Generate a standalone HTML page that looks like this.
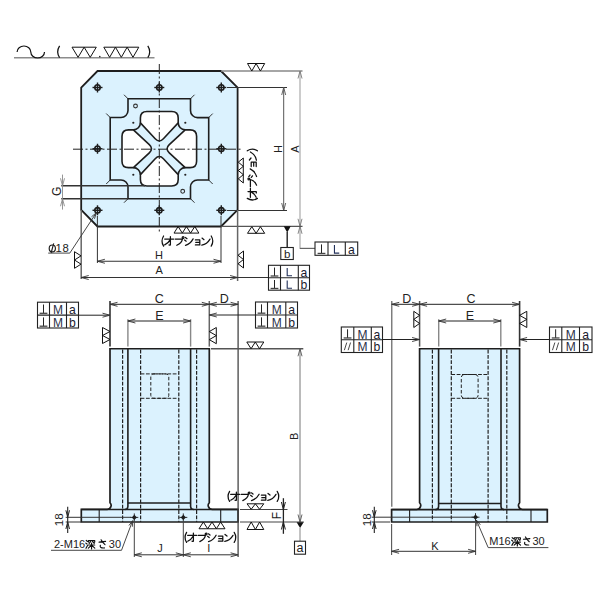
<!DOCTYPE html><html><head><meta charset="utf-8"><style>html,body{margin:0;padding:0;background:#fff;}svg{display:block;}</style></head><body><svg width="600" height="600" viewBox="0 0 600 600" font-family="&quot;Liberation Sans&quot;, sans-serif">
<rect width="600" height="600" fill="#fff"/>
<line x1="14" y1="57.75" x2="154.5" y2="57.75" stroke="#8c8c8c" stroke-width="1.6" />
<path d="M17.1,52 A6.85,6 0 0 1 30.8,52 A6.85,6 0 0 0 44.5,52" stroke="#111" stroke-width="1.2" fill="none" />
<path d="M59.6,45.8 Q55.8,51.8 59.6,57.6" stroke="#111" stroke-width="1.25" fill="none"/>
<path d="M147.8,45.8 Q151.6,51.8 147.8,57.6" stroke="#111" stroke-width="1.25" fill="none"/>
<path d="M72,47.2 H96.3 M72.00,47.2 L78.08,57.3 L84.15,47.2 M84.15,47.2 L90.23,57.3 L96.30,47.2" stroke="#111" stroke-width="1.0" fill="none" />
<path d="M103.8,47.2 H138.8 M103.80,47.2 L109.63,57.3 L115.47,47.2 M115.47,47.2 L121.30,57.3 L127.13,47.2 M127.13,47.2 L132.97,57.3 L138.80,47.2" stroke="#111" stroke-width="1.0" fill="none" />
<circle cx="99.8" cy="56.6" r="0.8" fill="#222"/>
<path d="M97.5,71 H221 L237.6,87.5 V210 L221,226.5 H97.5 L81.2,210 V87.5 Z" stroke="#1e1e1e" stroke-width="1.8" fill="#dbf2fe" />
<path d="M128,98.75 H190.5 V110.5 A7,7 0 0 0 197.5,117.6 H208.7 V180 H197.5 A7,7 0 0 0 190.5,187 V198.7 H128 V187 A7,7 0 0 0 121,180 H110.2 V117.5 H121 A7,7 0 0 0 128,110.5 Z" stroke="#1e1e1e" stroke-width="1.6" fill="none" />
<line x1="128" y1="98.75" x2="124" y2="94.75" stroke="#1e1e1e" stroke-width="0.9" />
<line x1="190.5" y1="98.75" x2="194.5" y2="94.75" stroke="#1e1e1e" stroke-width="0.9" />
<line x1="208.7" y1="117.6" x2="212.7" y2="113.6" stroke="#1e1e1e" stroke-width="0.9" />
<line x1="208.7" y1="180" x2="212.7" y2="184" stroke="#1e1e1e" stroke-width="0.9" />
<line x1="190.5" y1="198.7" x2="194.5" y2="202.7" stroke="#1e1e1e" stroke-width="0.9" />
<line x1="128" y1="198.7" x2="124" y2="202.7" stroke="#1e1e1e" stroke-width="0.9" />
<line x1="110.2" y1="180" x2="106.2" y2="184" stroke="#1e1e1e" stroke-width="0.9" />
<line x1="110.2" y1="117.5" x2="106.2" y2="113.5" stroke="#1e1e1e" stroke-width="0.9" />
<path d="M140.40,117.95 Q140.40,111.45 146.90,111.45 L171.70,111.45 Q178.20,111.45 178.20,117.95 L178.20,122.85 Q178.20,122.85 178.20,122.85 L163.39,138.76 Q159.30,143.15 155.21,138.76 L140.40,122.85 Q140.40,122.85 140.40,122.85 Z" stroke="#1e1e1e" stroke-width="1.6" fill="#fff" />
<path d="M178.20,122.85 A7,7 0 0 0 185.20,129.85" stroke="#1e1e1e" stroke-width="1.6" fill="none" />
<path d="M190.10,129.85 Q196.60,129.85 196.60,136.35 L196.60,161.15 Q196.60,167.65 190.10,167.65 L185.20,167.65 Q185.20,167.65 185.20,167.65 L169.29,152.84 Q164.90,148.75 169.29,144.66 L185.20,129.85 Q185.20,129.85 185.20,129.85 Z" stroke="#1e1e1e" stroke-width="1.6" fill="#fff" />
<path d="M185.20,167.65 A7,7 0 0 0 178.20,174.65" stroke="#1e1e1e" stroke-width="1.6" fill="none" />
<path d="M178.20,179.55 Q178.20,186.05 171.70,186.05 L146.90,186.05 Q140.40,186.05 140.40,179.55 L140.40,174.65 Q140.40,174.65 140.40,174.65 L155.21,158.74 Q159.30,154.35 163.39,158.74 L178.20,174.65 Q178.20,174.65 178.20,174.65 Z" stroke="#1e1e1e" stroke-width="1.6" fill="#fff" />
<path d="M140.40,174.65 A7,7 0 0 0 133.40,167.65" stroke="#1e1e1e" stroke-width="1.6" fill="none" />
<path d="M128.50,167.65 Q122.00,167.65 122.00,161.15 L122.00,136.35 Q122.00,129.85 128.50,129.85 L133.40,129.85 Q133.40,129.85 133.40,129.85 L149.31,144.66 Q153.70,148.75 149.31,152.84 L133.40,167.65 Q133.40,167.65 133.40,167.65 Z" stroke="#1e1e1e" stroke-width="1.6" fill="#fff" />
<path d="M133.40,129.85 A7,7 0 0 0 140.40,122.85" stroke="#1e1e1e" stroke-width="1.6" fill="none" />
<circle cx="133.3" cy="122.75" r="1.1" fill="#222"/>
<circle cx="133.3" cy="174.75" r="1.1" fill="#222"/>
<circle cx="185.3" cy="122.75" r="1.1" fill="#222"/>
<circle cx="185.3" cy="174.75" r="1.1" fill="#222"/>
<circle cx="135.5" cy="106" r="1.9" stroke="#333" stroke-width="1.1" fill="none"/>
<circle cx="182.7" cy="191.3" r="1.9" stroke="#333" stroke-width="1.1" fill="none"/>
<line x1="73" y1="149.2" x2="242" y2="149.2" stroke="#222" stroke-width="1.0" stroke-dasharray="10,2.5,2,2.5"/>
<line x1="159.3" y1="64" x2="159.3" y2="233" stroke="#222" stroke-width="1.0" stroke-dasharray="10,2.5,2,2.5"/>
<circle cx="97.5" cy="87.5" r="2.7" stroke="#1e1e1e" stroke-width="1.6" fill="none"/>
<line x1="92.5" y1="87.5" x2="102.5" y2="87.5" stroke="#1e1e1e" stroke-width="1.4" />
<line x1="97.5" y1="82.5" x2="97.5" y2="92.5" stroke="#1e1e1e" stroke-width="1.4" />
<circle cx="97.5" cy="148.75" r="2.7" stroke="#1e1e1e" stroke-width="1.6" fill="none"/>
<line x1="92.5" y1="148.75" x2="102.5" y2="148.75" stroke="#1e1e1e" stroke-width="1.4" />
<line x1="97.5" y1="143.75" x2="97.5" y2="153.75" stroke="#1e1e1e" stroke-width="1.4" />
<circle cx="97.5" cy="210.3" r="2.7" stroke="#1e1e1e" stroke-width="1.6" fill="none"/>
<line x1="92.5" y1="210.3" x2="102.5" y2="210.3" stroke="#1e1e1e" stroke-width="1.4" />
<line x1="97.5" y1="205.3" x2="97.5" y2="215.3" stroke="#1e1e1e" stroke-width="1.4" />
<circle cx="159.3" cy="87.5" r="2.7" stroke="#1e1e1e" stroke-width="1.6" fill="none"/>
<line x1="154.3" y1="87.5" x2="164.3" y2="87.5" stroke="#1e1e1e" stroke-width="1.4" />
<line x1="159.3" y1="82.5" x2="159.3" y2="92.5" stroke="#1e1e1e" stroke-width="1.4" />
<circle cx="159.3" cy="210.3" r="2.7" stroke="#1e1e1e" stroke-width="1.6" fill="none"/>
<line x1="154.3" y1="210.3" x2="164.3" y2="210.3" stroke="#1e1e1e" stroke-width="1.4" />
<line x1="159.3" y1="205.3" x2="159.3" y2="215.3" stroke="#1e1e1e" stroke-width="1.4" />
<circle cx="221.3" cy="87.5" r="2.7" stroke="#1e1e1e" stroke-width="1.6" fill="none"/>
<line x1="216.3" y1="87.5" x2="226.3" y2="87.5" stroke="#1e1e1e" stroke-width="1.4" />
<line x1="221.3" y1="82.5" x2="221.3" y2="92.5" stroke="#1e1e1e" stroke-width="1.4" />
<circle cx="221.3" cy="148.75" r="2.7" stroke="#1e1e1e" stroke-width="1.6" fill="none"/>
<line x1="216.3" y1="148.75" x2="226.3" y2="148.75" stroke="#1e1e1e" stroke-width="1.4" />
<line x1="221.3" y1="143.75" x2="221.3" y2="153.75" stroke="#1e1e1e" stroke-width="1.4" />
<circle cx="221.3" cy="210.3" r="2.7" stroke="#1e1e1e" stroke-width="1.6" fill="none"/>
<line x1="216.3" y1="210.3" x2="226.3" y2="210.3" stroke="#1e1e1e" stroke-width="1.4" />
<line x1="221.3" y1="205.3" x2="221.3" y2="215.3" stroke="#1e1e1e" stroke-width="1.4" />
<line x1="61.3" y1="185.8" x2="145" y2="185.8" stroke="#333" stroke-width="1.4" />
<line x1="61.3" y1="198.75" x2="128" y2="198.75" stroke="#333" stroke-width="1.4" />
<line x1="62.5" y1="174.6" x2="62.5" y2="209.6" stroke="#8a8a8a" stroke-width="0.9" />
<path d="M60.50,178.30 L62.50,185.80 L64.50,178.30" stroke="#8a8a8a" stroke-width="0.9" fill="none"/>
<path d="M64.50,206.25 L62.50,198.75 L60.50,206.25" stroke="#8a8a8a" stroke-width="0.9" fill="none"/>
<text x="60.9" y="191.4" font-size="12" text-anchor="middle" fill="#222" transform="rotate(-90 60.9 191.4)" >G</text>
<line x1="221" y1="71" x2="302.5" y2="71" stroke="#888" stroke-width="1.4" />
<path d="M247.5,63.5 H264.7 M247.50,63.5 L251.80,71 L256.10,63.5 M256.10,63.5 L260.40,71 L264.70,63.5" stroke="#111" stroke-width="1.0" fill="none" />
<line x1="227" y1="87.5" x2="287" y2="87.5" stroke="#333" stroke-width="1.2" />
<line x1="283.7" y1="87.5" x2="283.7" y2="210.5" stroke="#555" stroke-width="1.0" />
<path d="M285.70,95.00 L283.70,87.50 L281.70,95.00" stroke="#555" stroke-width="0.9" fill="none"/>
<path d="M281.70,203.00 L283.70,210.50 L285.70,203.00" stroke="#555" stroke-width="0.9" fill="none"/>
<line x1="300" y1="71" x2="300" y2="249" stroke="#999" stroke-width="1.0" />
<path d="M302.00,78.50 L300.00,71.00 L298.00,78.50" stroke="#777" stroke-width="0.9" fill="none"/>
<path d="M298.00,218.80 L300.00,226.30 L302.00,218.80" stroke="#777" stroke-width="0.9" fill="none"/>
<path d="M302.00,233.80 L300.00,226.30 L298.00,233.80" stroke="#777" stroke-width="0.9" fill="none"/>
<line x1="227" y1="210.5" x2="287" y2="210.5" stroke="#333" stroke-width="1.2" />
<line x1="221" y1="226.3" x2="302.5" y2="226.3" stroke="#555" stroke-width="1.2" />
<text x="281.5" y="149" font-size="11" text-anchor="middle" fill="#222" transform="rotate(-90 281.5 149)" >H</text>
<text x="299" y="149" font-size="11" text-anchor="middle" fill="#222" transform="rotate(-90 299 149)" >A</text>
<path d="M243.3,158 V183 M243.3,158.00 L238.3,162.17 L243.3,166.33 M243.3,166.33 L238.3,170.50 L243.3,174.67 M243.3,174.67 L238.3,178.83 L243.3,183.00" stroke="#111" stroke-width="1.0" fill="none" />
<g transform="translate(248 201) rotate(-90) scale(1.0)" stroke="#111" stroke-width="1.25" fill="none" stroke-linecap="round" stroke-linejoin="round"><path d="M2.6,-0.7 Q-0.6,4.4 2.6,9.4" /><path transform="translate(3.2,0)" d="M0.5,2.4 H9.5 M6.2,0 V8 Q6.2,8.7 4.8,8.2 M5.9,3.2 Q4.2,6.4 0.5,8.2"/><path transform="translate(13.2,0)" d="M1,2.4 H8.2 Q7.6,6.2 2.6,8.6 M8.9,0.9 m-0.9,0 a0.9,0.9 0 1 0 1.8,0 a0.9,0.9 0 1 0 -1.8,0"/><path transform="translate(23.2,0)" d="M1.2,0.8 L2.8,2 M0.4,3.3 L2,4.5 M1.3,8.6 Q6.2,7.2 8.9,2.2"/><path transform="translate(33.2,0)" d="M1.2,3.2 H5.6 V8.2 H1.2 M1.6,5.7 H5.6"/><path transform="translate(39.800000000000004,0)" d="M1.2,1.4 L3.2,3 M1,8.4 Q6.2,7.6 9.2,2.4"/><path d="M50.2,-0.7 Q53.400000000000006,4.4 50.2,9.4" /></g>
<path d="M247.5,233.3 H264.7 M247.50,233.3 L251.80,226.7 L256.10,233.3 M256.10,233.3 L260.40,226.7 L264.70,233.3" stroke="#111" stroke-width="1.0" fill="none" />
<path d="M283.7,226.3 H290.7 L287.2,232.5 Z" fill="#111"/>
<line x1="287.2" y1="232" x2="287.2" y2="247.5" stroke="#222" stroke-width="1.4" />
<rect x="280.8" y="247.5" width="12.5" height="12" stroke="#222" stroke-width="1.1" fill="#fff"/>
<text x="287.1" y="257.6" font-size="11.5" text-anchor="middle" fill="#222" >b</text>
<line x1="300" y1="248.4" x2="315" y2="248.4" stroke="#666" stroke-width="1.2" />
<rect x="315" y="242" width="42.69999999999999" height="13.300000000000011" stroke="#222" stroke-width="1.1" fill="#fff"/>
<line x1="328" y1="242" x2="328" y2="255.3" stroke="#222" stroke-width="1.1" />
<line x1="345.3" y1="242" x2="345.3" y2="255.3" stroke="#222" stroke-width="1.1" />
<line x1="237.6" y1="210" x2="237.6" y2="281" stroke="#666" stroke-width="1.5" />
<path d="M243.5,251 V268 M243.5,251.00 L238,255.25 L243.5,259.50 M243.5,259.50 L238,263.75 L243.5,268.00" stroke="#111" stroke-width="1.0" fill="none" />
<line x1="81.2" y1="210" x2="81.2" y2="279" stroke="#666" stroke-width="1.5" />
<path d="M74.5,251.7 V268.3 M74.5,251.70 L81,255.85 L74.5,260.00 M74.5,260.00 L81,264.15 L74.5,268.30" stroke="#111" stroke-width="1.0" fill="none" />
<line x1="81.2" y1="277.5" x2="268.5" y2="277.5" stroke="#333" stroke-width="1.0" />
<path d="M88.70,275.50 L81.20,277.50 L88.70,279.50" stroke="#333" stroke-width="0.9" fill="none"/>
<path d="M230.10,279.50 L237.60,277.50 L230.10,275.50" stroke="#333" stroke-width="0.9" fill="none"/>
<line x1="97.4" y1="216" x2="97.4" y2="263" stroke="#333" stroke-width="1.0" />
<line x1="221" y1="216" x2="221" y2="263" stroke="#333" stroke-width="1.0" />
<line x1="97.4" y1="261.25" x2="221" y2="261.25" stroke="#333" stroke-width="1.0" />
<path d="M104.90,259.25 L97.40,261.25 L104.90,263.25" stroke="#333" stroke-width="0.9" fill="none"/>
<path d="M213.50,263.25 L221.00,261.25 L213.50,259.25" stroke="#333" stroke-width="0.9" fill="none"/>
<text x="159.1" y="258.7" font-size="11" text-anchor="middle" fill="#222" >H</text>
<text x="159.1" y="274.3" font-size="11" text-anchor="middle" fill="#222" >A</text>
<path d="M174,233.1 H198.9 M174.00,233.1 L178.15,226.5 L182.30,233.1 M182.30,233.1 L186.45,226.5 L190.60,233.1 M190.60,233.1 L194.75,226.5 L198.90,233.1" stroke="#111" stroke-width="1.0" fill="none" />
<g transform="translate(161 236.7) scale(1.0)" stroke="#111" stroke-width="1.25" fill="none" stroke-linecap="round" stroke-linejoin="round"><path d="M2.6,-0.7 Q-0.6,4.4 2.6,9.4" /><path transform="translate(3.2,0)" d="M0.5,2.4 H9.5 M6.2,0 V8 Q6.2,8.7 4.8,8.2 M5.9,3.2 Q4.2,6.4 0.5,8.2"/><path transform="translate(13.2,0)" d="M1,2.4 H8.2 Q7.6,6.2 2.6,8.6 M8.9,0.9 m-0.9,0 a0.9,0.9 0 1 0 1.8,0 a0.9,0.9 0 1 0 -1.8,0"/><path transform="translate(23.2,0)" d="M1.2,0.8 L2.8,2 M0.4,3.3 L2,4.5 M1.3,8.6 Q6.2,7.2 8.9,2.2"/><path transform="translate(33.2,0)" d="M1.2,3.2 H5.6 V8.2 H1.2 M1.6,5.7 H5.6"/><path transform="translate(39.800000000000004,0)" d="M1.2,1.4 L3.2,3 M1,8.4 Q6.2,7.6 9.2,2.4"/><path d="M50.2,-0.7 Q53.400000000000006,4.4 50.2,9.4" /></g>
<rect x="268.5" y="265.3" width="41.0" height="24.899999999999977" stroke="#222" stroke-width="1.1" fill="#fff"/>
<line x1="280.5" y1="265.3" x2="280.5" y2="290.2" stroke="#222" stroke-width="1.1" />
<line x1="298.3" y1="265.3" x2="298.3" y2="290.2" stroke="#222" stroke-width="1.1" />
<line x1="268.5" y1="277.75" x2="309.5" y2="277.75" stroke="#222" stroke-width="1.1" />
<ellipse cx="52.3" cy="248.4" rx="3.1" ry="3.4" stroke="#1a1a1a" stroke-width="1.15" fill="none"/>
<line x1="53.7" y1="243.4" x2="51.1" y2="253" stroke="#1a1a1a" stroke-width="1.1" />
<text x="55.6" y="251.9" font-size="11.3" text-anchor="start" fill="#222" >1</text>
<text x="62.6" y="251.9" font-size="11.3" text-anchor="start" fill="#222" >8</text>
<path d="M48.2,253.1 H69.8 L96.5,212.5" stroke="#333" stroke-width="0.9" fill="none" />
<path d="M94.49,218.80 L96.30,212.80 L91.49,216.81" stroke="#333" stroke-width="0.9" fill="none"/>
<line x1="321.5" y1="244.394" x2="321.5" y2="253.43800000000002" stroke="#222" stroke-width="1.0" />
<line x1="317.6" y1="253.43800000000002" x2="325.4" y2="253.43800000000002" stroke="#444" stroke-width="1.3" />
<path d="M334.45,244.92600000000002 V253.172 H339.25" stroke="#22305a" stroke-width="1.1" fill="none" />
<text x="351.5" y="254.103" font-size="12.2" text-anchor="middle" fill="#1a1a2e" >a</text>
<line x1="274.5" y1="267.541" x2="274.5" y2="276.007" stroke="#222" stroke-width="1.0" />
<line x1="270.6" y1="276.007" x2="278.4" y2="276.007" stroke="#444" stroke-width="1.3" />
<path d="M287.2,268.039 V275.758 H292.0" stroke="#22305a" stroke-width="1.1" fill="none" />
<text x="303.9" y="276.6295" font-size="12.2" text-anchor="middle" fill="#1a1a2e" >a</text>
<line x1="274.5" y1="279.991" x2="274.5" y2="288.457" stroke="#222" stroke-width="1.0" />
<line x1="270.6" y1="288.457" x2="278.4" y2="288.457" stroke="#444" stroke-width="1.3" />
<path d="M287.2,280.489 V288.20799999999997 H292.0" stroke="#22305a" stroke-width="1.1" fill="none" />
<text x="303.9" y="289.0795" font-size="12.2" text-anchor="middle" fill="#1a1a2e" >b</text>
<path d="M110,348.75 H209.3 V502.7 Q207.6,504.6 208.4,506.6 Q209.4,509.4 212.2,509.4 H238.1 V522 H81.3 V509.4 H107.1 Q109.9,509.4 110.9,506.6 Q111.7,504.6 110,502.7 Z" stroke="#1e1e1e" stroke-width="1.7" fill="#dbf2fe" />
<path d="M127.9,348.75 V506.5 Q127.9,509.5 124.8,509.5" stroke="#1e1e1e" stroke-width="1.6" fill="none" />
<path d="M190.6,348.75 V506.5 Q190.6,509.5 193.7,509.5" stroke="#1e1e1e" stroke-width="1.6" fill="none" />
<path d="M127.9,503 H190.6" stroke="#1e1e1e" stroke-width="1.5" fill="none" />
<line x1="81.3" y1="509.5" x2="238.1" y2="509.5" stroke="#1e1e1e" stroke-width="1.6" />
<line x1="99.2" y1="509.5" x2="99.2" y2="522" stroke="#1e1e1e" stroke-width="1.1" />
<line x1="220.7" y1="509.5" x2="220.7" y2="522" stroke="#1e1e1e" stroke-width="1.1" />
<line x1="122.6" y1="349.6" x2="122.6" y2="522" stroke="#222" stroke-width="1.2" stroke-dasharray="3.8,1.55"/>
<line x1="140.6" y1="349.6" x2="140.6" y2="522" stroke="#222" stroke-width="1.2" stroke-dasharray="3.8,1.55"/>
<line x1="178.8" y1="349.6" x2="178.8" y2="522" stroke="#222" stroke-width="1.2" stroke-dasharray="3.8,1.55"/>
<line x1="196.6" y1="349.6" x2="196.6" y2="522" stroke="#222" stroke-width="1.2" stroke-dasharray="3.8,1.55"/>
<line x1="140.6" y1="373.9" x2="178.8" y2="373.9" stroke="#222" stroke-width="1.0" stroke-dasharray="3.8,1.55"/>
<line x1="140.6" y1="398.3" x2="178.8" y2="398.3" stroke="#222" stroke-width="1.0" stroke-dasharray="3.8,1.55"/>
<rect x="150.8" y="373.9" width="18" height="24.4" rx="3" stroke="#222" stroke-width="1" fill="none" stroke-dasharray="3.5,2"/>
<path d="M131.70000000000002,517.4 L134.3,514.8 L136.9,517.4 L134.3,520.0 Z" fill="#1e1e1e"/>
<line x1="130.3" y1="517.4" x2="138.3" y2="517.4" stroke="#1e1e1e" stroke-width="0.9" />
<line x1="134.3" y1="513.4" x2="134.3" y2="521.4" stroke="#1e1e1e" stroke-width="0.9" />
<path d="M180.70000000000002,517.4 L183.3,514.8 L185.9,517.4 L183.3,520.0 Z" fill="#1e1e1e"/>
<line x1="179.3" y1="517.4" x2="187.3" y2="517.4" stroke="#1e1e1e" stroke-width="0.9" />
<line x1="183.3" y1="513.4" x2="183.3" y2="521.4" stroke="#1e1e1e" stroke-width="0.9" />
<line x1="65.7" y1="517.3" x2="131" y2="517.3" stroke="#333" stroke-width="1.0" />
<line x1="65.7" y1="522" x2="81.3" y2="522" stroke="#333" stroke-width="1.0" />
<line x1="67.7" y1="506.7" x2="67.7" y2="533" stroke="#222" stroke-width="1.1" />
<path d="M65.90,510.30 L67.70,517.30 L69.50,510.30" stroke="#222" stroke-width="1.0" fill="none"/>
<path d="M69.50,529.00 L67.70,522.00 L65.90,529.00" stroke="#222" stroke-width="1.0" fill="none"/>
<text x="63.4" y="519.8" font-size="11.5" text-anchor="middle" fill="#222" transform="rotate(-90 63.4 519.8)" >18</text>
<text x="54" y="548.3" font-size="11" text-anchor="start" fill="#222" >2-M16</text>
<g transform="translate(85.4 539.6) scale(0.97)" stroke="#111" stroke-width="1.2" fill="none" stroke-linecap="round" stroke-linejoin="round"><path transform="translate(0,0)" d="M0.9,0.9 L2,1.9 M0.4,3.6 L1.7,4.6 M0.6,9 L2.2,6.1 M3.1,2.6 V1 H9.6 V2.6 M5.2,2.1 L3.9,4 M7.4,2.1 L9.1,3.8 M3.1,5.6 H9.6 M6.35,3.6 V9.6 M6.1,6 L3,8.8 M6.6,6 L9.7,8.8"/><path transform="translate(12.6,0)" d="M1.5,2.6 L8.2,1.9 M3.6,0.2 Q5.6,3.6 7.6,5.2 M2.8,5.8 Q1.8,8.9 7,8.6"/></g>
<text x="108.8" y="548.3" font-size="11" text-anchor="start" fill="#222" >30</text>
<path d="M51,550.3 H121.5 L132.5,521" stroke="#333" stroke-width="0.9" fill="none" />
<path d="M132.31,526.75 L132.80,520.50 L128.96,525.45" stroke="#333" stroke-width="0.9" fill="none"/>
<line x1="134.3" y1="522" x2="134.3" y2="557" stroke="#444" stroke-width="1.0" />
<line x1="183.3" y1="522" x2="183.3" y2="557" stroke="#444" stroke-width="1.0" />
<line x1="134.3" y1="554.8" x2="238.1" y2="554.8" stroke="#333" stroke-width="1.0" />
<path d="M141.80,552.80 L134.30,554.80 L141.80,556.80" stroke="#333" stroke-width="0.9" fill="none"/>
<path d="M175.80,556.80 L183.30,554.80 L175.80,552.80" stroke="#333" stroke-width="0.9" fill="none"/>
<path d="M190.80,552.80 L183.30,554.80 L190.80,556.80" stroke="#333" stroke-width="0.9" fill="none"/>
<path d="M230.60,556.80 L238.10,554.80 L230.60,552.80" stroke="#333" stroke-width="0.9" fill="none"/>
<text x="160" y="551.5" font-size="11" text-anchor="middle" fill="#222" >J</text>
<text x="208.8" y="551.5" font-size="11" text-anchor="middle" fill="#222" >I</text>
<path d="M199,528.75 H225 M199.00,528.75 L203.33,522 L207.67,528.75 M207.67,528.75 L212.00,522 L216.33,528.75 M216.33,528.75 L220.67,522 L225.00,528.75" stroke="#111" stroke-width="1.0" fill="none" />
<g transform="translate(184 533) scale(1.0)" stroke="#111" stroke-width="1.25" fill="none" stroke-linecap="round" stroke-linejoin="round"><path d="M2.6,-0.7 Q-0.6,4.4 2.6,9.4" /><path transform="translate(3.2,0)" d="M0.5,2.4 H9.5 M6.2,0 V8 Q6.2,8.7 4.8,8.2 M5.9,3.2 Q4.2,6.4 0.5,8.2"/><path transform="translate(13.2,0)" d="M1,2.4 H8.2 Q7.6,6.2 2.6,8.6 M8.9,0.9 m-0.9,0 a0.9,0.9 0 1 0 1.8,0 a0.9,0.9 0 1 0 -1.8,0"/><path transform="translate(23.2,0)" d="M1.2,0.8 L2.8,2 M0.4,3.3 L2,4.5 M1.3,8.6 Q6.2,7.2 8.9,2.2"/><path transform="translate(33.2,0)" d="M1.2,3.2 H5.6 V8.2 H1.2 M1.6,5.7 H5.6"/><path transform="translate(39.800000000000004,0)" d="M1.2,1.4 L3.2,3 M1,8.4 Q6.2,7.6 9.2,2.4"/><path d="M50.2,-0.7 Q53.400000000000006,4.4 50.2,9.4" /></g>
<line x1="110" y1="301" x2="110" y2="346.6" stroke="#333" stroke-width="1.6" />
<line x1="209.3" y1="301" x2="209.3" y2="346.6" stroke="#666" stroke-width="1.5" />
<line x1="238.1" y1="301" x2="238.1" y2="557" stroke="#444" stroke-width="1.3" />
<line x1="110" y1="304.3" x2="238.1" y2="304.3" stroke="#222" stroke-width="1.0" />
<path d="M117.50,302.30 L110.00,304.30 L117.50,306.30" stroke="#333" stroke-width="0.9" fill="none"/>
<path d="M201.80,306.30 L209.30,304.30 L201.80,302.30" stroke="#333" stroke-width="0.9" fill="none"/>
<path d="M216.80,302.30 L209.30,304.30 L216.80,306.30" stroke="#333" stroke-width="0.9" fill="none"/>
<path d="M230.60,306.30 L238.10,304.30 L230.60,302.30" stroke="#333" stroke-width="0.9" fill="none"/>
<text x="159.3" y="303" font-size="12.5" text-anchor="middle" fill="#222" >C</text>
<text x="224.2" y="303" font-size="12.5" text-anchor="middle" fill="#222" >D</text>
<line x1="127.9" y1="319.2" x2="127.9" y2="346.6" stroke="#888" stroke-width="1.4" />
<line x1="190.6" y1="319.2" x2="190.6" y2="346.6" stroke="#888" stroke-width="1.4" />
<line x1="127.9" y1="321" x2="190.6" y2="321" stroke="#222" stroke-width="1.0" />
<path d="M135.40,319.00 L127.90,321.00 L135.40,323.00" stroke="#333" stroke-width="0.9" fill="none"/>
<path d="M183.10,323.00 L190.60,321.00 L183.10,319.00" stroke="#333" stroke-width="0.9" fill="none"/>
<text x="159.3" y="320.2" font-size="12.5" text-anchor="middle" fill="#222" >E</text>
<rect x="37.5" y="302.2" width="41.0" height="25.80000000000001" stroke="#222" stroke-width="1.1" fill="#fff"/>
<line x1="49.5" y1="302.2" x2="49.5" y2="328" stroke="#222" stroke-width="1.1" />
<line x1="66.5" y1="302.2" x2="66.5" y2="328" stroke="#222" stroke-width="1.1" />
<line x1="37.5" y1="315.1" x2="78.5" y2="315.1" stroke="#222" stroke-width="1.1" />
<line x1="43.5" y1="304.522" x2="43.5" y2="313.29400000000004" stroke="#222" stroke-width="1.0" />
<line x1="39.6" y1="313.29400000000004" x2="47.4" y2="313.29400000000004" stroke="#444" stroke-width="1.3" />
<text x="58.0" y="313.939" font-size="12" text-anchor="middle" fill="#2a3048" >M</text>
<text x="72.5" y="313.939" font-size="12.2" text-anchor="middle" fill="#1a1a2e" >a</text>
<line x1="43.5" y1="317.422" x2="43.5" y2="326.194" stroke="#222" stroke-width="1.0" />
<line x1="39.6" y1="326.194" x2="47.4" y2="326.194" stroke="#444" stroke-width="1.3" />
<text x="58.0" y="326.839" font-size="12" text-anchor="middle" fill="#2a3048" >M</text>
<text x="72.5" y="326.839" font-size="12.2" text-anchor="middle" fill="#1a1a2e" >b</text>
<line x1="78.5" y1="315.2" x2="110" y2="315.2" stroke="#222" stroke-width="1.0" />
<path d="M102.50,317.20 L110.00,315.20 L102.50,313.20" stroke="#333" stroke-width="0.9" fill="none"/>
<path d="M102.5,327.5 V343.5 M102.5,327.50 L110,331.50 L102.5,335.50 M102.5,335.50 L110,339.50 L102.5,343.50" stroke="#111" stroke-width="1.0" fill="none" />
<rect x="255.5" y="302" width="42.0" height="26" stroke="#222" stroke-width="1.1" fill="#fff"/>
<line x1="267.5" y1="302" x2="267.5" y2="328" stroke="#222" stroke-width="1.1" />
<line x1="285.8" y1="302" x2="285.8" y2="328" stroke="#222" stroke-width="1.1" />
<line x1="255.5" y1="315.0" x2="297.5" y2="315.0" stroke="#222" stroke-width="1.1" />
<line x1="261.5" y1="304.34" x2="261.5" y2="313.18" stroke="#222" stroke-width="1.0" />
<line x1="257.6" y1="313.18" x2="265.4" y2="313.18" stroke="#444" stroke-width="1.3" />
<text x="276.65" y="313.83" font-size="12" text-anchor="middle" fill="#2a3048" >M</text>
<text x="291.65" y="313.83" font-size="12.2" text-anchor="middle" fill="#1a1a2e" >a</text>
<line x1="261.5" y1="317.34" x2="261.5" y2="326.18" stroke="#222" stroke-width="1.0" />
<line x1="257.6" y1="326.18" x2="265.4" y2="326.18" stroke="#444" stroke-width="1.3" />
<text x="276.65" y="326.83" font-size="12" text-anchor="middle" fill="#2a3048" >M</text>
<text x="291.65" y="326.83" font-size="12.2" text-anchor="middle" fill="#1a1a2e" >b</text>
<line x1="209.3" y1="315" x2="255.5" y2="315" stroke="#222" stroke-width="1.0" />
<path d="M216.80,313.00 L209.30,315.00 L216.80,317.00" stroke="#333" stroke-width="0.9" fill="none"/>
<path d="M216.3,327.5 V343.7 M216.3,327.50 L209.3,331.55 L216.3,335.60 M216.3,335.60 L209.3,339.65 L216.3,343.70" stroke="#111" stroke-width="1.0" fill="none" />
<line x1="211" y1="348.75" x2="303.3" y2="348.75" stroke="#555" stroke-width="1.3" />
<path d="M246.8,342 H263.8 M246.80,342 L251.05,348.75 L255.30,342 M255.30,342 L259.55,348.75 L263.80,342" stroke="#111" stroke-width="1.0" fill="none" />
<line x1="300" y1="348.75" x2="300" y2="522" stroke="#777" stroke-width="1.0" />
<path d="M302.00,356.25 L300.00,348.75 L298.00,356.25" stroke="#555" stroke-width="0.9" fill="none"/>
<path d="M298.00,514.50 L300.00,522.00 L302.00,514.50" stroke="#555" stroke-width="0.9" fill="none"/>
<text x="298.5" y="436.3" font-size="11" text-anchor="middle" fill="#222" transform="rotate(-90 298.5 436.3)" >B</text>
<line x1="240" y1="509.5" x2="287.5" y2="509.5" stroke="#444" stroke-width="1.2" />
<line x1="240" y1="522" x2="303.8" y2="522" stroke="#444" stroke-width="1.2" />
<path d="M247,503.8 H263.8 M247.00,503.8 L251.20,509.3 L255.40,503.8 M255.40,503.8 L259.60,509.3 L263.80,503.8" stroke="#111" stroke-width="1.0" fill="none" />
<path d="M247,529.5 H263.8 M247.00,529.5 L251.20,522 L255.40,529.5 M255.40,529.5 L259.60,522 L263.80,529.5" stroke="#111" stroke-width="1.0" fill="none" />
<g transform="translate(227 492) scale(1.0)" stroke="#111" stroke-width="1.25" fill="none" stroke-linecap="round" stroke-linejoin="round"><path d="M2.6,-0.7 Q-0.6,4.4 2.6,9.4" /><path transform="translate(3.2,0)" d="M0.5,2.4 H9.5 M6.2,0 V8 Q6.2,8.7 4.8,8.2 M5.9,3.2 Q4.2,6.4 0.5,8.2"/><path transform="translate(13.2,0)" d="M1,2.4 H8.2 Q7.6,6.2 2.6,8.6 M8.9,0.9 m-0.9,0 a0.9,0.9 0 1 0 1.8,0 a0.9,0.9 0 1 0 -1.8,0"/><path transform="translate(23.2,0)" d="M1.2,0.8 L2.8,2 M0.4,3.3 L2,4.5 M1.3,8.6 Q6.2,7.2 8.9,2.2"/><path transform="translate(33.2,0)" d="M1.2,3.2 H5.6 V8.2 H1.2 M1.6,5.7 H5.6"/><path transform="translate(39.800000000000004,0)" d="M1.2,1.4 L3.2,3 M1,8.4 Q6.2,7.6 9.2,2.4"/><path d="M50.2,-0.7 Q53.400000000000006,4.4 50.2,9.4" /></g>
<line x1="283.4" y1="498.2" x2="283.4" y2="533.8" stroke="#222" stroke-width="1.3" />
<path d="M281.40,502.00 L283.40,509.50 L285.40,502.00" stroke="#222" stroke-width="1.0" fill="none"/>
<path d="M285.40,529.50 L283.40,522.00 L281.40,529.50" stroke="#222" stroke-width="1.0" fill="none"/>
<text x="281" y="515.7" font-size="12" text-anchor="middle" fill="#222" transform="rotate(-90 281 515.7)" >F</text>
<path d="M296.6,522.2 H303.6 L300.1,528 Z" fill="#111"/>
<line x1="300" y1="528" x2="300" y2="541.3" stroke="#aaa" stroke-width="1.4" />
<rect x="294.5" y="541.2" width="11" height="13" stroke="#222" stroke-width="1.1" fill="#fff"/>
<text x="300" y="552.2" font-size="12.5" text-anchor="middle" fill="#222" >a</text>
<path d="M419.6,348.75 H519.6 V502.7 Q517.9,504.6 518.7,506.6 Q519.7,509.5 522.5,509.5 H547.3 V522 H391.6 V509.5 H416.7 Q419.5,509.5 420.5,506.6 Q421.3,504.6 419.6,502.7 Z" stroke="#1e1e1e" stroke-width="1.7" fill="#dbf2fe" />
<path d="M438.6,348.75 V506.5 Q438.6,509.6 435.5,509.6" stroke="#1e1e1e" stroke-width="1.6" fill="none" />
<path d="M501,348.75 V506.5 Q501,509.6 504.1,509.6" stroke="#1e1e1e" stroke-width="1.6" fill="none" />
<path d="M438.6,503.6 H501" stroke="#1e1e1e" stroke-width="1.5" fill="none" />
<line x1="391.6" y1="509.6" x2="547.3" y2="509.6" stroke="#1e1e1e" stroke-width="1.6" />
<line x1="409.6" y1="509.6" x2="409.6" y2="522" stroke="#1e1e1e" stroke-width="1.1" />
<line x1="531" y1="509.6" x2="531" y2="522" stroke="#1e1e1e" stroke-width="1.1" />
<line x1="432.4" y1="349.6" x2="432.4" y2="522" stroke="#222" stroke-width="1.2" stroke-dasharray="3.8,1.55"/>
<line x1="451.3" y1="349.6" x2="451.3" y2="522" stroke="#222" stroke-width="1.2" stroke-dasharray="3.8,1.55"/>
<line x1="488.1" y1="349.6" x2="488.1" y2="522" stroke="#222" stroke-width="1.2" stroke-dasharray="3.8,1.55"/>
<line x1="506.8" y1="349.6" x2="506.8" y2="522" stroke="#222" stroke-width="1.2" stroke-dasharray="3.8,1.55"/>
<line x1="451.3" y1="374.5" x2="488.1" y2="374.5" stroke="#222" stroke-width="1.0" stroke-dasharray="3.8,1.55"/>
<line x1="451.3" y1="398.3" x2="488.1" y2="398.3" stroke="#222" stroke-width="1.0" stroke-dasharray="3.8,1.55"/>
<rect x="461.3" y="374.5" width="16.8" height="23.8" rx="3" stroke="#222" stroke-width="1" fill="none" stroke-dasharray="3.5,2"/>
<path d="M472.9,517.2 L475.5,514.6 L478.1,517.2 L475.5,519.8000000000001 Z" fill="#1e1e1e"/>
<line x1="471.5" y1="517.2" x2="479.5" y2="517.2" stroke="#1e1e1e" stroke-width="0.9" />
<line x1="475.5" y1="513.2" x2="475.5" y2="521.2" stroke="#1e1e1e" stroke-width="0.9" />
<line x1="371.7" y1="517.2" x2="473" y2="517.2" stroke="#333" stroke-width="1.0" />
<line x1="371.7" y1="522" x2="390" y2="522" stroke="#333" stroke-width="1.0" />
<line x1="374.3" y1="506.7" x2="374.3" y2="533" stroke="#222" stroke-width="1.1" />
<path d="M372.50,510.20 L374.30,517.20 L376.10,510.20" stroke="#222" stroke-width="1.0" fill="none"/>
<path d="M376.10,529.00 L374.30,522.00 L372.50,529.00" stroke="#222" stroke-width="1.0" fill="none"/>
<text x="370.7" y="519.8" font-size="11.5" text-anchor="middle" fill="#222" transform="rotate(-90 370.7 519.8)" >18</text>
<line x1="391.6" y1="524" x2="391.6" y2="555" stroke="#555" stroke-width="1.1" />
<line x1="475.6" y1="522" x2="475.6" y2="555" stroke="#444" stroke-width="1.0" />
<line x1="391.6" y1="551.3" x2="475.6" y2="551.3" stroke="#333" stroke-width="1.0" />
<path d="M399.10,549.30 L391.60,551.30 L399.10,553.30" stroke="#333" stroke-width="0.9" fill="none"/>
<path d="M468.10,553.30 L475.60,551.30 L468.10,549.30" stroke="#333" stroke-width="0.9" fill="none"/>
<text x="435" y="549.8" font-size="11" text-anchor="middle" fill="#222" >K</text>
<text x="489.3" y="545.4" font-size="11" text-anchor="start" fill="#222" >M</text>
<text x="498.5" y="545.4" font-size="11" text-anchor="start" fill="#222" >16</text>
<g transform="translate(511.3 536.8) scale(0.95)" stroke="#111" stroke-width="1.25" fill="none" stroke-linecap="round" stroke-linejoin="round"><path transform="translate(0,0)" d="M0.9,0.9 L2,1.9 M0.4,3.6 L1.7,4.6 M0.6,9 L2.2,6.1 M3.1,2.6 V1 H9.6 V2.6 M5.2,2.1 L3.9,4 M7.4,2.1 L9.1,3.8 M3.1,5.6 H9.6 M6.35,3.6 V9.6 M6.1,6 L3,8.8 M6.6,6 L9.7,8.8"/><path transform="translate(11.3,0)" d="M1.5,2.6 L8.2,1.9 M3.6,0.2 Q5.6,3.6 7.6,5.2 M2.8,5.8 Q1.8,8.9 7,8.6"/></g>
<text x="532.5" y="545.4" font-size="11" text-anchor="start" fill="#222" >30</text>
<path d="M548.4,547.6 H488.2 L476.5,520.5" stroke="#333" stroke-width="0.9" fill="none" />
<path d="M480.34,524.78 L476.30,520.00 L477.04,526.22" stroke="#333" stroke-width="0.9" fill="none"/>
<line x1="391.75" y1="301" x2="391.75" y2="506.8" stroke="#777" stroke-width="1.4" />
<line x1="419.6" y1="301" x2="419.6" y2="346.6" stroke="#555" stroke-width="1.5" />
<line x1="519.6" y1="301" x2="519.6" y2="346.6" stroke="#333" stroke-width="1.6" />
<line x1="391.75" y1="304.3" x2="519.6" y2="304.3" stroke="#222" stroke-width="1.0" />
<path d="M399.25,302.30 L391.75,304.30 L399.25,306.30" stroke="#333" stroke-width="0.9" fill="none"/>
<path d="M412.10,306.30 L419.60,304.30 L412.10,302.30" stroke="#333" stroke-width="0.9" fill="none"/>
<path d="M427.10,302.30 L419.60,304.30 L427.10,306.30" stroke="#333" stroke-width="0.9" fill="none"/>
<path d="M512.10,306.30 L519.60,304.30 L512.10,302.30" stroke="#333" stroke-width="0.9" fill="none"/>
<text x="406.8" y="303" font-size="12.5" text-anchor="middle" fill="#222" >D</text>
<text x="471" y="303" font-size="12.5" text-anchor="middle" fill="#222" >C</text>
<line x1="438.7" y1="319.2" x2="438.7" y2="346.6" stroke="#888" stroke-width="1.4" />
<line x1="500.8" y1="319.2" x2="500.8" y2="346.6" stroke="#888" stroke-width="1.4" />
<line x1="438.7" y1="321" x2="500.8" y2="321" stroke="#222" stroke-width="1.0" />
<path d="M446.20,319.00 L438.70,321.00 L446.20,323.00" stroke="#333" stroke-width="0.9" fill="none"/>
<path d="M493.30,323.00 L500.80,321.00 L493.30,319.00" stroke="#333" stroke-width="0.9" fill="none"/>
<text x="470" y="320.2" font-size="12.5" text-anchor="middle" fill="#222" >E</text>
<path d="M413.8,311.3 V327.5 M413.8,311.30 L419.6,315.35 L413.8,319.40 M413.8,319.40 L419.6,323.45 L413.8,327.50" stroke="#111" stroke-width="1.0" fill="none" />
<path d="M526.8,311.3 V327.5 M526.8,311.30 L519.6,315.35 L526.8,319.40 M526.8,319.40 L519.6,323.45 L526.8,327.50" stroke="#111" stroke-width="1.0" fill="none" />
<rect x="341.3" y="327" width="41.19999999999999" height="25.5" stroke="#222" stroke-width="1.1" fill="#fff"/>
<line x1="353.8" y1="327" x2="353.8" y2="352.5" stroke="#222" stroke-width="1.1" />
<line x1="371.3" y1="327" x2="371.3" y2="352.5" stroke="#222" stroke-width="1.1" />
<line x1="341.3" y1="339.75" x2="382.5" y2="339.75" stroke="#222" stroke-width="1.1" />
<line x1="347.55" y1="329.295" x2="347.55" y2="337.965" stroke="#222" stroke-width="1.0" />
<line x1="343.65000000000003" y1="337.965" x2="351.45" y2="337.965" stroke="#444" stroke-width="1.3" />
<text x="362.55" y="338.6025" font-size="12" text-anchor="middle" fill="#2a3048" >M</text>
<text x="376.9" y="338.6025" font-size="12.2" text-anchor="middle" fill="#1a1a2e" >a</text>
<line x1="344.35" y1="350.205" x2="346.75" y2="342.555" stroke="#333" stroke-width="0.9" />
<line x1="348.15000000000003" y1="350.205" x2="350.55" y2="342.555" stroke="#333" stroke-width="0.9" />
<text x="362.55" y="351.3525" font-size="12" text-anchor="middle" fill="#2a3048" >M</text>
<text x="376.9" y="351.3525" font-size="12.2" text-anchor="middle" fill="#1a1a2e" >b</text>
<line x1="382.5" y1="339.5" x2="419.6" y2="339.5" stroke="#222" stroke-width="1.0" />
<path d="M412.10,341.50 L419.60,339.50 L412.10,337.50" stroke="#333" stroke-width="0.9" fill="none"/>
<rect x="549.5" y="327" width="42.5" height="25.5" stroke="#222" stroke-width="1.1" fill="#fff"/>
<line x1="561.8" y1="327" x2="561.8" y2="352.5" stroke="#222" stroke-width="1.1" />
<line x1="579.5" y1="327" x2="579.5" y2="352.5" stroke="#222" stroke-width="1.1" />
<line x1="549.5" y1="339.75" x2="592" y2="339.75" stroke="#222" stroke-width="1.1" />
<line x1="555.65" y1="329.295" x2="555.65" y2="337.965" stroke="#222" stroke-width="1.0" />
<line x1="551.75" y1="337.965" x2="559.55" y2="337.965" stroke="#444" stroke-width="1.3" />
<text x="570.65" y="338.6025" font-size="12" text-anchor="middle" fill="#2a3048" >M</text>
<text x="585.75" y="338.6025" font-size="12.2" text-anchor="middle" fill="#1a1a2e" >a</text>
<line x1="552.4499999999999" y1="350.205" x2="554.85" y2="342.555" stroke="#333" stroke-width="0.9" />
<line x1="556.25" y1="350.205" x2="558.65" y2="342.555" stroke="#333" stroke-width="0.9" />
<text x="570.65" y="351.3525" font-size="12" text-anchor="middle" fill="#2a3048" >M</text>
<text x="585.75" y="351.3525" font-size="12.2" text-anchor="middle" fill="#1a1a2e" >b</text>
<line x1="519.6" y1="339.5" x2="549.5" y2="339.5" stroke="#222" stroke-width="1.0" />
<path d="M527.10,337.50 L519.60,339.50 L527.10,341.50" stroke="#333" stroke-width="0.9" fill="none"/>
</svg></body></html>
